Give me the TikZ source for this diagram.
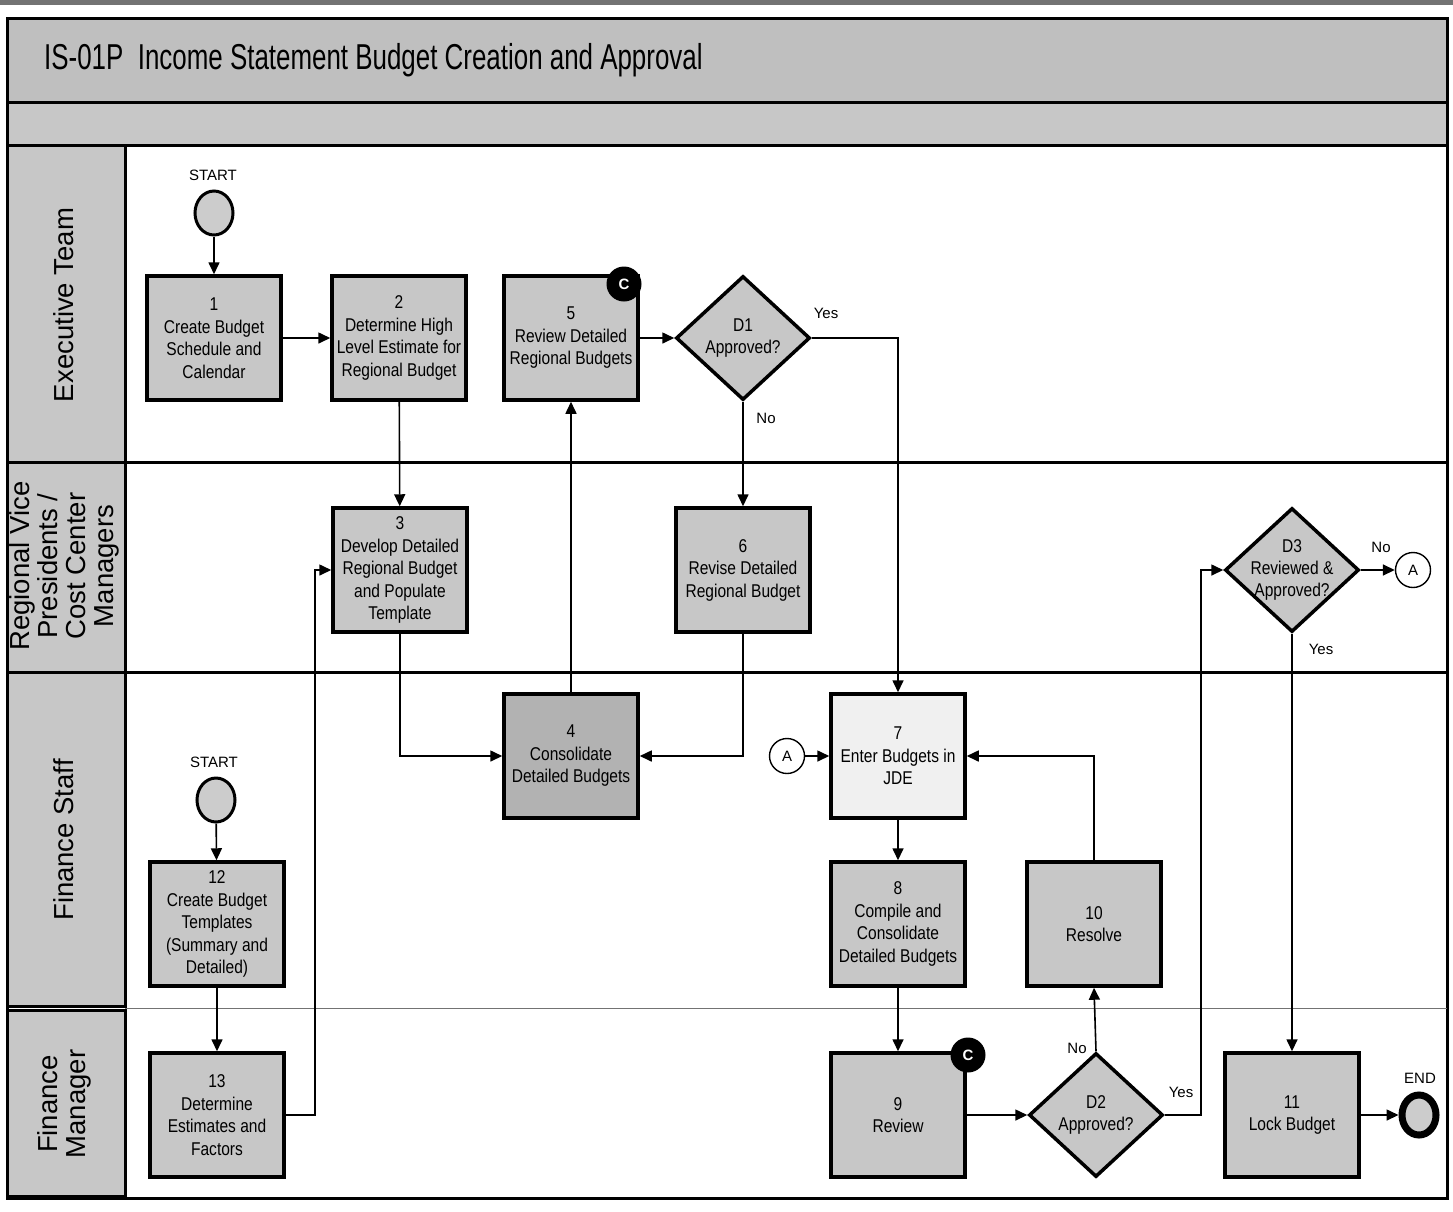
\documentclass[tikz,border=0pt]{standalone}
\usepackage{fontspec}
\setmainfont{Liberation Sans}[FakeStretch=0.84]
\newfontfamily\lanefont{Liberation Sans}
\newfontfamily\titlefont{Liberation Sans}[FakeStretch=0.72]
\usetikzlibrary{shapes.geometric,arrows.meta,calc}

\tikzset{
  proc/.style={draw, line width=3.5pt, fill=black!22, minimum width=134pt,
    minimum height=124pt, align=center, inner sep=2pt,
    font=\fontsize{18.5}{22.5}\selectfont},
  decision/.style={diamond, draw, line width=3.5pt, fill=black!22,
    minimum width=134pt, minimum height=124pt, inner sep=-12pt, align=center,
    font=\fontsize{18.5}{22}\selectfont},
  terminal/.style={ellipse, draw, line width=3pt, fill=black!20,
    minimum width=38pt, minimum height=44pt, inner sep=0pt},
  endterm/.style={ellipse, draw, line width=7pt, fill=black!20,
    minimum width=34pt, minimum height=40pt, inner sep=0pt},
  offpage/.style={circle, draw, line width=1.4pt, fill=white,
    minimum size=35pt, inner sep=0pt, font=\lanefont\fontsize{15}{15}\selectfont},
  badge/.style={circle, fill=black, text=white, minimum size=35pt,
    inner sep=0pt, font=\lanefont\bfseries\fontsize{15}{15}\selectfont},
  tag/.style={font=\lanefont\fontsize{15}{15}\selectfont, inner sep=1pt},
  lanelabel/.style={rotate=90, align=center,
    font=\lanefont\fontsize{27.5}{28}\selectfont},
  arr/.style={line width=1.6pt, -{Triangle[length=12pt,width=11pt]}},
  lane/.style={line width=3pt},
}

\begin{document}
\begin{tikzpicture}[x=1pt,y=-1pt]
\useasboundingbox (0,0) rectangle (1453,1211);

% scanned edge strip
\fill[black!55] (0,0) rectangle (1453,5);

% title and subtitle bands
\draw[lane, fill=black!25] (7,18) rectangle (1447,102);
\draw[lane, fill=black!22] (7,102) rectangle (1447,145);
\node[anchor=west, font=\titlefont\fontsize{36}{36}\selectfont, inner sep=0pt] (title) at (44,60)
  {IS-01P\ \ Income Statement Budget Creation and Approval};

% swimlane frame
\draw[lane] (7,145) rectangle (1447,1198);
\draw[lane, fill=black!22] (7,145) rectangle (125,462);
\draw[lane, fill=black!22] (7,462) rectangle (125,672);
\draw[lane, fill=black!22] (7,672) rectangle (125,1006);
\draw[lane, fill=black!22] (7,1010) rectangle (125,1196);
\draw[lane] (125,462) -- (1447,462);
\draw[lane] (125,672) -- (1447,672);
\draw[line width=1pt, black!55] (125,1008) -- (1447,1008);

% lane labels
\node[lanelabel] (l1) at (64,305) {Executive Team};
\node[lanelabel] (l2) at (64,566) {Regional Vice\\Presidents /\\Cost Center\\Managers};
\node[lanelabel] (l3) at (64,840) {Finance Staff};
\node[lanelabel] (l4) at (64,1104) {Finance\\Manager};

% Executive Team
\node[terminal] (s1) at (214,213) {};
\node[tag] (s1t) at (213,175) {START};
\node[proc] (b1) at (214,338) {1\\Create Budget\\Schedule and\\Calendar};
\node[proc] (b2) at (399,338) {2\\Determine High\\Level Estimate for\\Regional Budget};
\node[proc] (b5) at (571,338) {5\\Review Detailed\\Regional Budgets};
\node[badge] (c1) at (624,284) {C};
\node[decision] (d1) at (743,338) {D1\\Approved?};

% Regional VPs / Cost Center Managers
\node[proc] (b3) at (400,570) {3\\Develop Detailed\\Regional Budget\\and Populate\\Template};
\node[proc] (b6) at (743,570) {6\\Revise Detailed\\Regional Budget};
\node[decision] (d3) at (1292,570) {D3\\Reviewed \&\\Approved?};
\node[offpage] (a1) at (1413,570) {A};

% Finance Staff
\node[proc, fill=black!30] (b4) at (571,756) {4\\Consolidate\\Detailed Budgets};
\node[offpage] (a2) at (787,756) {A};
\node[proc, fill=black!6] (b7) at (898,756) {7\\Enter Budgets in\\JDE};
\node[terminal] (s2) at (216,800) {};
\node[tag] (s2t) at (214,762) {START};
\node[proc] (b12) at (217,924) {12\\Create Budget\\Templates\\(Summary and\\Detailed)};
\node[proc] (b8) at (898,924) {8\\Compile and\\Consolidate\\Detailed Budgets};
\node[proc] (b10) at (1094,924) {10\\Resolve};

% Finance Manager
\node[proc] (b13) at (217,1115) {13\\Determine\\Estimates and\\Factors};
\node[proc] (b9) at (898,1115) {9\\Review};
\node[badge] (c2) at (968,1055) {C};
\node[decision] (d2) at (1096,1115) {D2\\Approved?};
\node[proc] (b11) at (1292,1115) {11\\Lock Budget};
\node[endterm] (e1) at (1419,1115) {};
\node[tag] (e1t) at (1420,1078) {END};

% branch labels
\node[tag] (y1) at (826,313) {Yes};
\node[tag] (n1) at (766,418) {No};
\node[tag] (n3) at (1381,547) {No};
\node[tag] (y3) at (1321,649) {Yes};
\node[tag] (n2) at (1077,1048) {No};
\node[tag] (y2) at (1181,1092) {Yes};

% connectors
\draw[arr] (s1) -- (b1);
\draw[arr] (b1) -- (b2);
\draw[arr] (b2) -- (b3);
\draw[arr] (b5) -- (d1);
\draw[arr] (d1.east) -| (b7.north);
\draw[arr] (d1.south) -- (b6.north);
\draw[arr] (b3.south) |- (b4.west);
\draw[arr] (b6.south) |- (b4.east);
\draw[arr] (b4.north) -- (b5.south);
\draw[arr] (d3.east) -- (a1.west);
\draw[arr] (d3.south) -- (b11.north);
\draw[arr] (a2.east) -- (b7.west);
\draw[arr] (b10.north) |- (b7.east);
\draw[arr] (b7) -- (b8);
\draw[arr] (b8) -- (b9);
\draw[arr] (b9.east) -- (d2.west);
\draw[arr] (d2.north) -- (b10.south);
\draw[arr] (d2.east) -- ++(36,0) |- (d3.west);
\draw[arr] (b11.east) -- (e1.west);
\draw[arr] (s2) -- (b12);
\draw[arr] (b12) -- (b13);
\draw[arr] (b13.east) -- ++(29,0) |- (b3.west);
\end{tikzpicture}
\end{document}
